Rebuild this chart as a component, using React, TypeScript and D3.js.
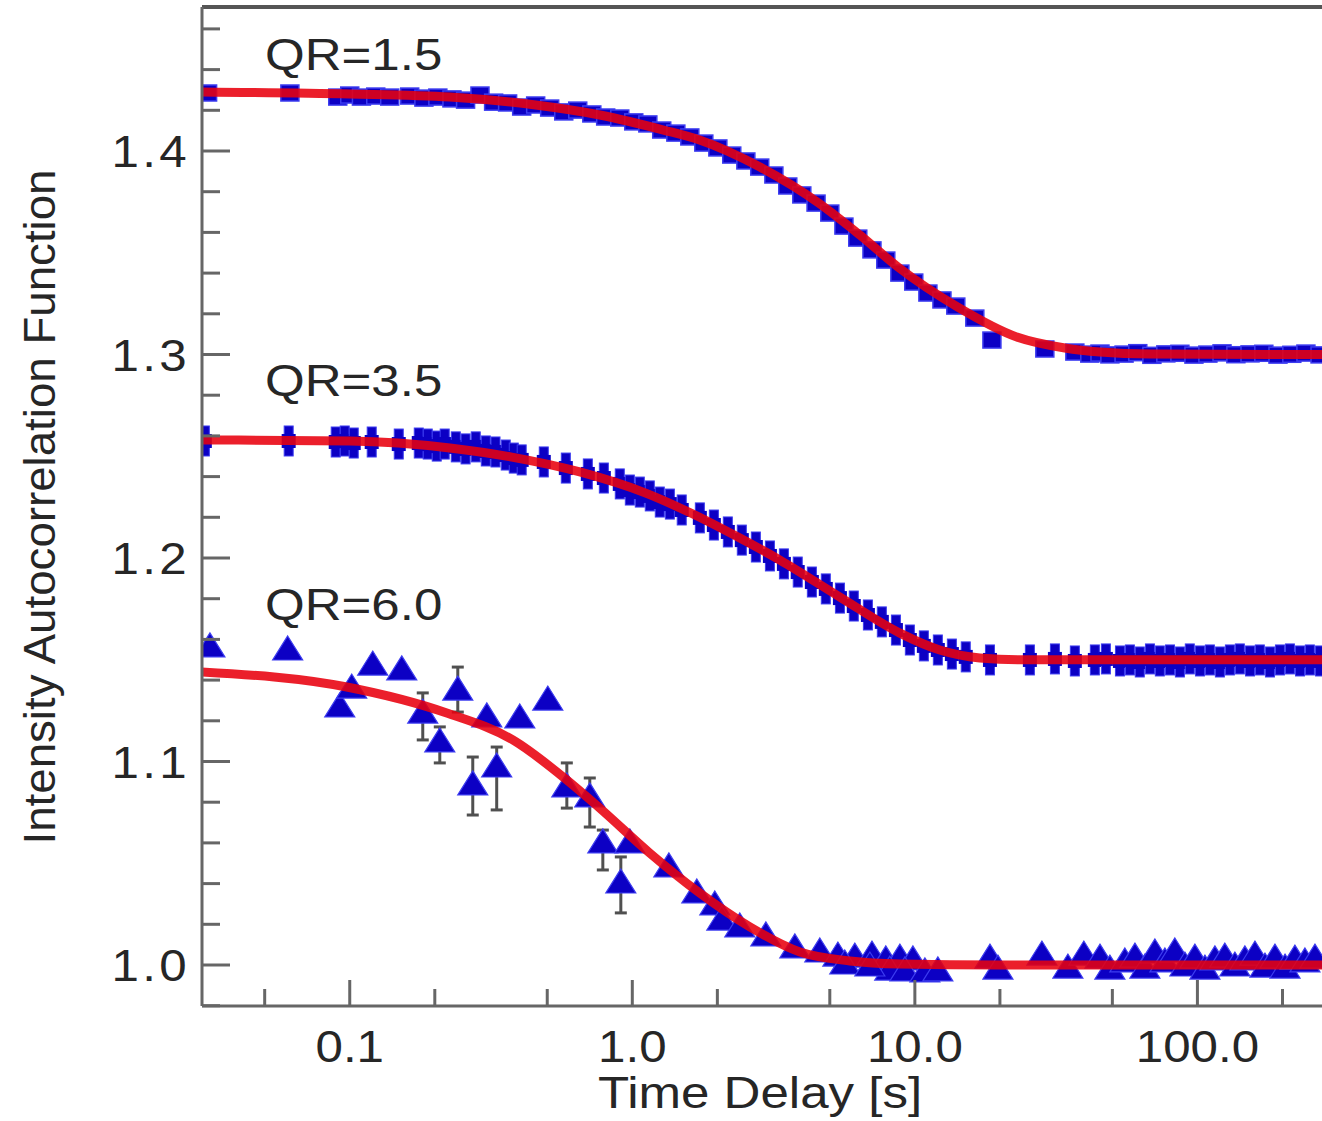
import React from "react";
import * as d3 from "d3";

// ---------- axis ticks ----------
const xTicksMajor = [0.1, 1, 10, 100];
const xTickLabels = ["0.1", "1.0", "10.0", "100.0"];
const xTicksMinor = [0.05, 0.2, 0.5, 2, 5, 20, 50, 200];
const yTicksMajor = [1.0, 1.1, 1.2, 1.3, 1.4];
const yTickLabels = ["1.0", "1.1", "1.2", "1.3", "1.4"];
const yTicksMinor = [0.98, 1.02, 1.04, 1.06, 1.08, 1.12, 1.14, 1.16, 1.18, 1.22, 1.24, 1.26, 1.28, 1.32, 1.34, 1.36, 1.38, 1.42, 1.44, 1.46];

const seriesLabels = ["QR=1.5", "QR=3.5", "QR=6.0"];
const xTitle = "Time Delay [s]";
const yTitle = "Intensity Autocorrelation Function";

// ---------- QR=1.5 (squares) ----------
const qr15X = [0.0314, 0.0614, 0.0907, 0.1, 0.110, 0.1236, 0.1385, 0.163, 0.183, 0.205, 0.230, 0.257, 0.289, 0.323, 0.362, 0.406, 0.455, 0.510, 0.572, 0.641, 0.719, 0.805, 0.903, 1.012, 1.135, 1.271, 1.426, 1.598, 1.791, 2.008, 2.249, 2.523, 2.825, 3.17, 3.55, 3.98, 4.47, 5.00, 5.61, 6.28, 7.05, 7.89, 8.85, 9.91, 11.12, 12.47, 13.96, 16.3, 18.74, 28.84, 36.83, 41.6, 45.2, 49.0, 55.0, 61.5, 69.0, 77.3, 86.7, 97.2, 108.9, 122.2, 136.8, 153.5, 171.8, 192.8, 215.8, 242.1, 271.6];
const qr15Y = [1.4285, 1.4285, 1.4265, 1.4275, 1.4265, 1.427, 1.4265, 1.427, 1.426, 1.4265, 1.4256, 1.425, 1.4275, 1.424, 1.4236, 1.4216, 1.4226, 1.4211, 1.4192, 1.4201, 1.4182, 1.4167, 1.4162, 1.4143, 1.4133, 1.4103, 1.4088, 1.4069, 1.4039, 1.4015, 1.398, 1.3951, 1.3921, 1.3882, 1.3828, 1.3784, 1.3744, 1.3695, 1.3631, 1.3572, 1.3514, 1.3464, 1.3400, 1.3356, 1.3302, 1.3268, 1.3238, 1.3179, 1.3071, 1.3027, 1.3012, 1.3002, 1.3007, 1.2998, 1.3002, 1.3009, 1.2996, 1.3003, 1.3006, 1.2997, 1.3002, 1.3008, 1.2999, 1.3003, 1.3006, 1.2997, 1.3001, 1.3007, 1.2998];

// ---------- QR=3.5 (bar markers) ----------
const qr35X = [0.0307, 0.0608, 0.0892, 0.0960, 0.1033, 0.1196, 0.1491, 0.1755, 0.1888, 0.2032, 0.2168, 0.2373, 0.257, 0.2792, 0.303, 0.328, 0.3565, 0.3806, 0.406, 0.4861, 0.5817, 0.696, 0.793, 0.903, 0.980, 1.063, 1.153, 1.251, 1.358, 1.496, 1.734, 1.944, 2.178, 2.441, 2.737, 3.069, 3.44, 3.85, 4.32, 4.84, 5.43, 6.08, 6.82, 7.64, 8.57, 9.60, 10.76, 12.06, 13.52, 15.14, 18.44, 25.53, 31.31, 36.83, 43.35, 47.43, 53.19, 57.68, 62.52, 67.92, 73.62, 79.98, 86.7, 93.98, 102.1, 110.7, 120.1, 130.3, 141.3, 153.5, 166.3, 180.6, 195.9, 212.5, 230.7, 250.0, 271.6];
const qr35Y = [1.2575, 1.2575, 1.257, 1.2575, 1.2565, 1.257, 1.256, 1.2565, 1.256, 1.255, 1.256, 1.2546, 1.2536, 1.2546, 1.2526, 1.2521, 1.2506, 1.2491, 1.2482, 1.2472, 1.2442, 1.2413, 1.2393, 1.2364, 1.2334, 1.2324, 1.2305, 1.2275, 1.2265, 1.2236, 1.2197, 1.2162, 1.2128, 1.2088, 1.2054, 1.2010, 1.1971, 1.1931, 1.1882, 1.1848, 1.1803, 1.1764, 1.1720, 1.1686, 1.1646, 1.1597, 1.1568, 1.1548, 1.1528, 1.1514, 1.1499, 1.1499, 1.1504, 1.1494, 1.1499, 1.1504, 1.1494, 1.1499, 1.1489, 1.1504, 1.1494, 1.1499, 1.1489, 1.1504, 1.1494, 1.1499, 1.1489, 1.1499, 1.1504, 1.1494, 1.1499, 1.1489, 1.1499, 1.1504, 1.1494, 1.1499, 1.1494];

// ---------- QR=6.0 (triangles) ----------
const qr60X = [0.0320, 0.0603, 0.0922, 0.1016, 0.1206, 0.1528, 0.1813, 0.2083, 0.2412, 0.2725, 0.3055, 0.3312, 0.3998, 0.5022, 0.5865, 0.7072, 0.7865, 0.9107, 0.980, 1.347, 1.692, 1.959, 2.074, 2.402, 2.969, 3.76, 4.61, 5.34, 6.13, 7.05, 7.89, 8.85, 9.84, 8.15, 9.22, 10.85, 12.06, 5.65, 6.93, 18.44, 19.68, 28.16, 34.8, 39.63, 45.2, 49.0, 55.37, 60.1, 65.16, 70.73, 76.74, 83.2, 90.3, 97.95, 106.3, 115.3, 125.0, 135.7, 147.2, 159.8, 173.4, 188.1, 204.2, 221.3, 240.2, 260.6];
const qr60Y = [1.1563, 1.1548, 1.1268, 1.1361, 1.1474, 1.1450, 1.1238, 1.1096, 1.1351, 1.0885, 1.1219, 1.0973, 1.1214, 1.1302, 1.0875, 1.0826, 1.0600, 1.0403, 1.0600, 1.0482, 1.0354, 1.0295, 1.0221, 1.0187, 1.0143, 1.0084, 1.0064, 1.0044, 1.0039, 1.0049, 1.0025, 1.0034, 1.0025, 0.9975, 0.9971, 0.9966, 0.9971, 1.0005, 0.9995, 1.0034, 0.9980, 1.0049, 0.9985, 1.0049, 1.0034, 0.9980, 1.0015, 1.0039, 0.9985, 1.0059, 1.0015, 1.0064, 0.9995, 1.0034, 0.9980, 1.0025, 1.0039, 0.9995, 1.0025, 1.0049, 0.9990, 1.0034, 0.9985, 1.0029, 1.0015, 1.0034];
const qr60ErrX = [0.1813, 0.2083, 0.2412, 0.2725, 0.3312, 0.5865, 0.7072, 0.7865, 0.9107];
const qr60ErrHi = [1.1337, 1.1170, 1.1464, 1.1022, 1.1071, 1.0993, 1.0919, 1.0663, 1.0531];
const qr60ErrLo = [1.1106, 1.0993, 1.1243, 1.0737, 1.0762, 1.0771, 1.0678, 1.0467, 1.0256];

// ---------- fitted curves ----------
const fit15X = [0.0299, 0.1, 0.226, 0.455, 0.767, 1.29, 1.73, 2.83, 4.57, 6.39, 8.71, 14.19, 22.96, 33.96, 45.2, 67.9, 276];
const fit15Y = [1.4290, 1.4280, 1.4265, 1.4226, 1.4177, 1.4103, 1.4054, 1.3921, 1.3744, 1.3587, 1.3430, 1.3233, 1.3086, 1.3032, 1.3012, 1.3002, 1.3000];
const fit35X = [0.0299, 0.1, 0.226, 0.3746, 0.652, 1.116, 1.611, 2.402, 3.33, 5.43, 8.85, 12.25, 16.98, 23.53, 45.2, 276];
const fit35Y = [1.2580, 1.2575, 1.2541, 1.2496, 1.2423, 1.2319, 1.2221, 1.2098, 1.1990, 1.1808, 1.1631, 1.1548, 1.1509, 1.1500, 1.1500, 1.1500];
const fit60X = [0.0299, 0.0976, 0.2205, 0.3776, 0.5865, 0.767, 1.153, 1.73, 2.606, 3.92, 5.89, 8.85, 19.99, 276];
const fit60Y = [1.1440, 1.1366, 1.1238, 1.1106, 1.0909, 1.0771, 1.0550, 1.0354, 1.0187, 1.0064, 1.0020, 1.0005, 1.0000, 1.0000];

const zip = (xs: number[], ys: number[]) =>
  xs.slice(0, Math.min(xs.length, ys.length)).map((x, i) => [x, ys[i]] as [number, number]);

const W = 1322;
const H = 1121;
const LEFT = 202;
const RIGHT = 1322;
const TOP = 7;
const BOTTOM = 1006;

const FONT = "'Liberation Sans', Arial, Helvetica, sans-serif";
const TEXT_COLOR = "#262626";
const AXIS_COLOR = "#666666";
const BLUE = "#0c00c4";
const BLUE_EDGE = "#3c3cf0";
const RED = "#e8000e";

export default function App() {
  const x = d3.scaleLog().domain([0.03, 276]).range([LEFT, RIGHT]);
  const y = d3.scaleLinear().domain([1.0, 1.4]).range([965, 151]);

  const line = d3
    .line<[number, number]>()
    .x((d) => x(d[0]))
    .y((d) => y(d[1]))
    .curve(d3.curveMonotoneX);

  const fits = [zip(fit15X, fit15Y), zip(fit35X, fit35Y), zip(fit60X, fit60Y)];
  const s15 = zip(qr15X, qr15Y);
  const s35 = zip(qr35X, qr35Y);
  const s60 = zip(qr60X, qr60Y);

  const triPath = "M0,-14 L15,10 L-15,10 Z";

  return (
    <svg
      width={W}
      height={H}
      style={{ position: "absolute", left: 0, top: 0, display: "block", background: "#ffffff" }}
    >
      <defs>
        <clipPath id="plotClip">
          <rect x={LEFT} y={TOP} width={RIGHT - LEFT} height={BOTTOM - TOP} />
        </clipPath>
      </defs>

      <g clipPath="url(#plotClip)">
        {/* QR=1.5 squares */}
        {s15.map((d, i) => (
          <rect
            key={`a${i}`}
            x={x(d[0]) - 9}
            y={y(d[1]) - 8}
            width={18}
            height={16}
            fill={BLUE}
            stroke={BLUE_EDGE}
            strokeWidth={1.5}
          />
        ))}
        {/* QR=3.5 bar markers */}
        {s35.map((d, i) => (
          <g key={`b${i}`} transform={`translate(${x(d[0])},${y(d[1])})`}>
            <rect x={-4.5} y={-15} width={9} height={30} fill={BLUE} stroke={BLUE_EDGE} strokeWidth={1} />
            <rect x={-7} y={-7} width={14} height={14} fill={BLUE} />
          </g>
        ))}
        {/* QR=6.0 error bars */}
        {qr60ErrX.map((v, i) => (
          <g key={`e${i}`} stroke="#505050" strokeWidth={3}>
            <line x1={x(v)} x2={x(v)} y1={y(qr60ErrHi[i])} y2={y(qr60ErrLo[i])} />
            <line x1={x(v) - 6} x2={x(v) + 6} y1={y(qr60ErrHi[i])} y2={y(qr60ErrHi[i])} />
            <line x1={x(v) - 6} x2={x(v) + 6} y1={y(qr60ErrLo[i])} y2={y(qr60ErrLo[i])} />
          </g>
        ))}
        {/* QR=6.0 triangles */}
        {s60.map((d, i) => (
          <path
            key={`c${i}`}
            d={triPath}
            transform={`translate(${x(d[0])},${y(d[1])})`}
            fill={BLUE}
            stroke={BLUE_EDGE}
            strokeWidth={1.2}
          />
        ))}
        {/* fitted curves */}
        {fits.map((f, i) => (
          <path
            key={`f${i}`}
            d={line(f) || ""}
            fill="none"
            stroke={RED}
            strokeWidth={9}
            strokeOpacity={0.88}
            strokeLinecap="round"
          />
        ))}
      </g>

      {/* frame */}
      <g stroke={AXIS_COLOR} strokeWidth={3} fill="none">
        <line x1={LEFT} x2={RIGHT} y1={TOP} y2={TOP} strokeWidth={4} stroke="#555" />
        <line x1={LEFT} x2={LEFT} y1={TOP} y2={BOTTOM} />
        <line x1={LEFT} x2={RIGHT} y1={BOTTOM} y2={BOTTOM} />
        {yTicksMajor.map((v, i) => (
          <line key={`ym${i}`} x1={LEFT} x2={LEFT + 28} y1={y(v)} y2={y(v)} />
        ))}
        {yTicksMinor.map((v, i) => (
          <line key={`yn${i}`} x1={LEFT} x2={LEFT + 18} y1={y(v)} y2={y(v)} />
        ))}
        {xTicksMajor.map((v, i) => (
          <line key={`xm${i}`} x1={x(v)} x2={x(v)} y1={BOTTOM} y2={BOTTOM - 26} />
        ))}
        {xTicksMinor.map((v, i) => (
          <line key={`xn${i}`} x1={x(v)} x2={x(v)} y1={BOTTOM} y2={BOTTOM - 17} />
        ))}
      </g>

      {/* tick labels */}
      <g fontFamily={FONT} fontSize={44} fill={TEXT_COLOR}>
        {yTicksMajor.map((v, i) => (
          <text
            key={`yl${i}`}
            transform={`translate(190,${y(v) + 16}) scale(1.12,1)`}
            textAnchor="end"
            letterSpacing={3}
          >
            {yTickLabels[i]}
          </text>
        ))}
        {xTicksMajor.map((v, i) => (
          <text
            key={`xl${i}`}
            transform={`translate(${x(v)},1062) scale(1.12,1)`}
            textAnchor="middle"
          >
            {xTickLabels[i]}
          </text>
        ))}
        {/* series labels */}
        {[70, 396, 620].map((b, i) => (
          <text key={`sl${i}`} transform={`translate(265,${b}) scale(1.16,1)`}>
            {seriesLabels[i]}
          </text>
        ))}
        {/* axis titles */}
        <text transform={`translate(760,1108) scale(1.16,1)`} textAnchor="middle">
          {xTitle}
        </text>
        <text
          transform={`translate(55,507) rotate(-90)`}
          textAnchor="middle"
          textLength={675}
          lengthAdjust="spacingAndGlyphs"
          fontSize={45}
        >
          {yTitle}
        </text>
      </g>
    </svg>
  );
}
